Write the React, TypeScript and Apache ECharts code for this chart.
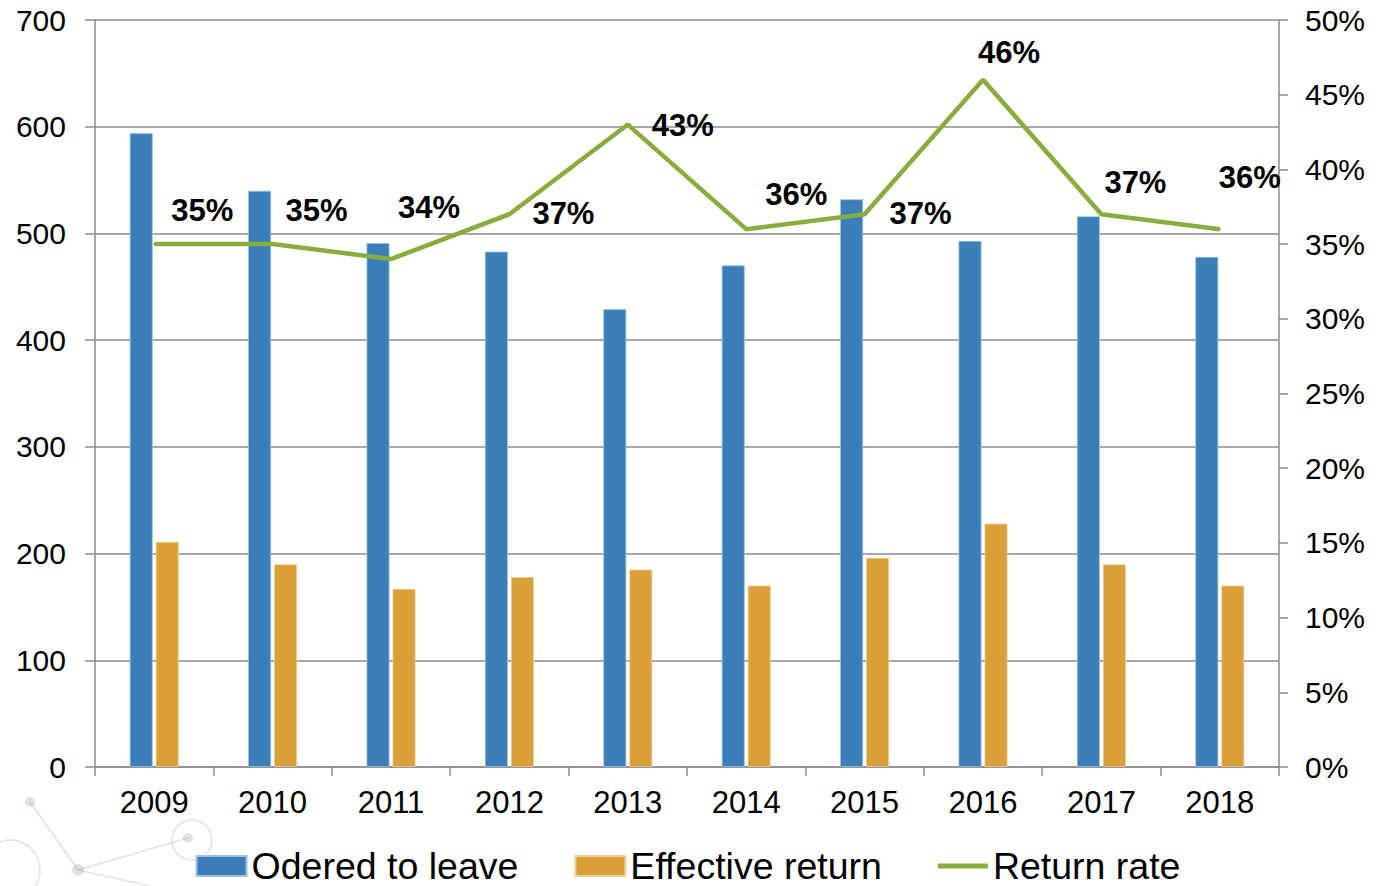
import React, { useEffect, useRef } from "react";
import * as echarts from "echarts";

const years = ["2009", "2010", "2011", "2012", "2013", "2014", "2015", "2016", "2017", "2018"];
const orderedToLeave = [594, 540, 491, 483, 429, 470, 532, 493, 516, 478];
const effectiveReturn = [211, 190, 167, 178, 185, 170, 196, 228, 190, 170];
const returnRate = [35, 35, 34, 37, 43, 36, 37, 46, 37, 36];
const leftTicks = { min: 0, max: 700, interval: 100 };
const rightTicks = { min: 0, max: 50, interval: 5 };

// label offsets (styling only) for the return-rate labels
const labelOffsets: [number, number][] = [
  [48, -17], [44, -17], [38, -35], [54, 16], [55, 17],
  [50, -18], [56, 16], [26, -11], [34, -15], [30, -35],
];

const FONT = "'Liberation Sans', Arial, sans-serif";
const GRID = "#8c8c8c";
const GREEN = "#88ad3d";

export default function App() {
  const ref = useRef<HTMLDivElement>(null);
  useEffect(() => {
    if (!ref.current) return;
    const chart = echarts.init(ref.current, undefined, { renderer: "svg" });
    const deco = "rgba(150,160,165,0.3)";
    chart.setOption({
      animation: false,
      backgroundColor: "#ffffff",
      textStyle: { fontFamily: FONT },
      graphic: [
        { type: "line", shape: { x1: 30, y1: 802, x2: 78, y2: 870 }, style: { stroke: deco, lineWidth: 1.5 }, z: -1 },
        { type: "line", shape: { x1: 78, y1: 870, x2: 150, y2: 886 }, style: { stroke: deco, lineWidth: 1.5 }, z: -1 },
        { type: "line", shape: { x1: 78, y1: 870, x2: 188, y2: 838 }, style: { stroke: deco, lineWidth: 1.5 }, z: -1 },
        { type: "circle", shape: { cx: 30, cy: 802, r: 5 }, style: { fill: deco }, z: -1 },
        { type: "circle", shape: { cx: 78, cy: 870, r: 6 }, style: { fill: deco }, z: -1 },
        { type: "circle", shape: { cx: 188, cy: 838, r: 5 }, style: { fill: deco }, z: -1 },
        { type: "circle", shape: { cx: 192, cy: 840, r: 20 }, style: { fill: "none", stroke: deco, lineWidth: 1.5 }, z: -1 },
        { type: "circle", shape: { cx: 10, cy: 870, r: 30 }, style: { fill: "none", stroke: deco, lineWidth: 1.5 }, z: -1 },
      ],
      grid: { left: 95, right: 97, top: 20, bottom: 119, containLabel: false },
      legend: {
        top: 847,
        left: "center",
        padding: 0,
        itemWidth: 50,
        itemHeight: 20,
        itemGap: 56,
        textStyle: { fontSize: 37.5, lineHeight: 37, color: "#000", fontFamily: FONT },
        data: [
          { name: "Odered to leave", icon: "rect" },
          { name: "Effective return", icon: "rect" },
          { name: "Return rate", icon: "path://M0,0 L50,0 L50,5 L0,5 Z", itemStyle: { color: GREEN, opacity: 1 } },
        ],
      },
      xAxis: {
        type: "category",
        data: years,
        boundaryGap: true,
        axisLine: { lineStyle: { color: GRID, width: 1.5 } },
        axisTick: { show: true, length: 9, lineStyle: { color: GRID, width: 1.5 } },
        axisLabel: { color: "#000", fontSize: 31, margin: 20, fontFamily: FONT },
      },
      yAxis: [
        {
          type: "value",
          ...leftTicks,
          axisLine: { show: true, lineStyle: { color: GRID, width: 1.5 } },
          axisTick: { show: true, length: 10, lineStyle: { color: GRID, width: 1.5 } },
          axisLabel: { color: "#000", fontSize: 30, margin: 29, fontFamily: FONT },
          splitLine: { show: true, lineStyle: { color: GRID, width: 1.5 } },
        },
        {
          type: "value",
          ...rightTicks,
          position: "right",
          axisLine: { show: true, lineStyle: { color: GRID, width: 1.5 } },
          axisTick: { show: true, length: 9, lineStyle: { color: GRID, width: 1.5 } },
          axisLabel: { color: "#000", fontSize: 30, margin: 26, formatter: "{value}%", fontFamily: FONT },
          splitLine: { show: false },
        },
      ],
      series: [
        {
          name: "Odered to leave",
          type: "bar",
          data: orderedToLeave,
          barWidth: 23,
          barGap: "13%",
          itemStyle: { color: "#3b7fba", borderColor: "#9fc2e0", borderWidth: 0.8 },
        },
        {
          name: "Effective return",
          type: "bar",
          data: effectiveReturn,
          barWidth: 23,
          barGap: "13%",
          itemStyle: { color: "#d9a03a", borderColor: "#efd09a", borderWidth: 0.8 },
        },
        {
          name: "Return rate",
          type: "line",
          yAxisIndex: 1,
          data: returnRate.map((v, i) => ({
            value: v,
            label: { offset: labelOffsets[i] },
          })),
          showSymbol: true,
          symbol: "circle",
          symbolSize: 2,
          lineStyle: { color: GREEN, width: 4.5 },
          itemStyle: { color: GREEN },
          label: {
            show: true,
            position: "top",
            distance: 0,
            formatter: (p: any) => `${p.value}%`,
            fontSize: 31,
            fontWeight: "bold",
            color: "#000",
            fontFamily: FONT,
          },
          z: 5,
        },
      ],
    });
    return () => chart.dispose();
  }, []);
  return (
    <div
      ref={ref}
      style={{ position: "fixed", left: 0, top: 0, width: 1376, height: 886 }}
    />
  );
}
